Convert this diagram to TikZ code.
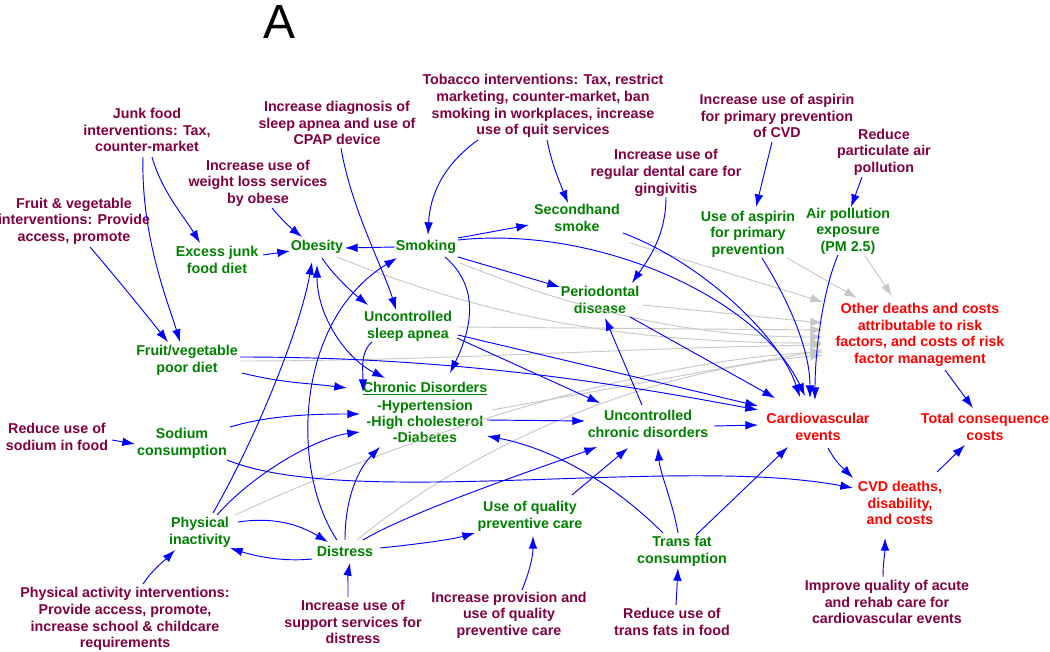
\documentclass[tikz,border=0pt]{standalone}
\usepackage{fontspec}
\setmainfont{Liberation Sans}
\usetikzlibrary{arrows.meta,calc}
\definecolor{ivc}{RGB}{128,0,64}
\definecolor{grc}{RGB}{0,128,0}
\definecolor{rdc}{RGB}{255,0,0}
\definecolor{blc}{RGB}{0,0,255}
\definecolor{gyc}{RGB}{200,200,200}
\tikzset{
  txt/.style={align=center, font=\fontsize{10.7}{12.5}\selectfont\bfseries, inner sep=1pt},
  iv/.style={txt, text=ivc},
  gr/.style={txt, text=grc},
  rd/.style={txt, text=rdc},
  bl/.style={draw=blc, line width=0.7pt, -{Latex[length=9.5pt,width=6.5pt]}},
  blboth/.style={draw=blc, line width=0.7pt, {Latex[length=9.5pt,width=6.5pt]}-{Latex[length=9.5pt,width=6.5pt]}},
  gy/.style={draw=gyc, line width=0.7pt, -{Latex[length=9.5pt,width=6.5pt]}}
}
\begin{document}
\begin{tikzpicture}[x=0.75pt,y=-0.75pt]
\fill[white] (0,0) rectangle (1050,652);
\useasboundingbox (0,0) rectangle (1050,652);
\node[font=\fontsize{36}{36}\selectfont] (title) at (280,22) {A};
% interventions
\node[iv] (junk) at (147,130) {Junk food\\interventions: Tax,\\counter-market};
\node[iv] (fvint) at (74,221) {Fruit \& vegetable\\interventions: Provide\\access, promote};
\node[iv] (wlint) at (258,183) {Increase use of\\weight loss services\\by obese};
\node[iv] (sleepint) at (337,123) {Increase diagnosis of\\sleep apnea and use of\\CPAP device};
\node[iv] (tobint) at (543,106) {Tobacco interventions: Tax, restrict\\marketing, counter-market, ban\\smoking in workplaces, increase\\use of quit services};
\node[iv] (dentint) at (666,173) {Increase use of\\regular dental care for\\gingivitis};
\node[iv] (aspint) at (777,116) {Increase use of aspirin\\for primary prevention\\of CVD};
\node[iv] (airint) at (884,152) {Reduce\\particulate air\\pollution};
\node[iv] (sodint) at (57,437) {Reduce use of\\sodium in food};
\node[iv] (paint) at (125,619) {Physical activity interventions:\\Provide access, promote,\\increase school \& childcare\\requirements};
\node[iv] (supint) at (353,622) {Increase use of\\support services for\\distress};
\node[iv] (qualint) at (509,615) {Increase provision and\\use of quality\\preventive care};
\node[iv] (tfint) at (672,622) {Reduce use of\\trans fats in food};
\node[iv] (acuteint) at (887,602) {Improve quality of acute\\and rehab care for\\cardiovascular events};
% green
\node[gr] (junkdiet) at (217,260) {Excess junk\\food diet};
\node[gr] (obesity) at (317,247) {Obesity};
\node[gr] (smoking) at (426,247) {Smoking};
\node[gr] (shs) at (577,218) {Secondhand\\smoke};
\node[gr] (aspirin) at (748,234) {Use of aspirin\\for primary\\prevention};
\node[gr] (air) at (848,231) {Air pollution\\exposure\\(PM 2.5)};
\node[gr] (perio) at (600,300) {Periodontal\\disease};
\node[gr] (apnea) at (408,326) {Uncontrolled\\sleep apnea};
\node[gr] (fvdiet) at (187,360) {Fruit/vegetable\\poor diet};
\node[gr, font=\fontsize{10.7}{12}\selectfont\bfseries] (chronic) at (425,412) {\underline{Chronic Disorders}\\[1.5pt]-Hypertension\\-High cholesterol\\-Diabetes};
\node[gr] (uchronic) at (648,424) {Uncontrolled\\chronic disorders};
\node[gr] (sodium) at (182,443) {Sodium\\consumption};
\node[gr] (pi) at (200,532) {Physical\\inactivity};
\node[gr] (distress) at (345,551) {Distress};
\node[gr] (quality) at (530,516) {Use of quality\\preventive care};
\node[gr] (transfat) at (682,551) {Trans fat\\consumption};
% red
\node[rd] (other) at (920,335) {Other deaths and costs\\attributable to risk\\factors, and costs of risk\\factor management};
\node[rd] (cve) at (818,427) {Cardiovascular\\events};
\node[rd] (total) at (985,427) {Total consequence\\costs};
\node[rd] (cvd) at (900,503) {CVD deaths,\\disability,\\and costs};
% gray arrows
\draw[gy] ($(shs)+(53,25)$) -- ($(other)+(-97,-33)$);
\draw[gy] ($(aspirin)+(39,24)$) -- ($(other)+(-63,-37)$);
\draw[gy] ($(air)+(17,25)$) -- ($(other)+(-28,-39)$);
\draw[gy] ($(perio)+(43,5)$) -- ($(other)+(-97,-12)$);
\draw[gy] ($(apnea)+(49,1)$) -- ($(other)+(-97,-5)$);
\draw[gy] ($(smoking)+(34,16)$) .. controls +(100,40) and +(-150,0) .. ($(other)+(-97,2)$);
\draw[gy] ($(obesity)+(20,10)$) .. controls +(150,60) and +(-200,0) .. ($(other)+(-97,8)$);
\draw[gy] ($(fvdiet)+(53,1)$) .. controls +(200,0) and +(-200,3) .. ($(other)+(-97,10)$);
\draw[gy] ($(chronic)+(67,-2)$) -- ($(other)+(-97,15)$);
\draw[gy] ($(pi)+(35,-17)$) .. controls +(185,-85) and +(-173,8) .. ($(other)+(-97,17)$);
\draw[gy] ($(distress)+(12,-11)$) .. controls +(123,-100) and +(-173,15) .. ($(other)+(-97,20)$);
% blue arrows
\draw[bl] ($(junk)+(5,27)$) .. controls +(10,35) and +(-15,-25) .. ($(junkdiet)+(-17,-17)$);
\draw[bl] ($(junk)+(-4,27)$) .. controls +(-2,80) and +(-12,-40) .. ($(fvdiet)+(-7,-18)$);
\draw[bl] ($(fvint)+(16,26)$) .. controls +(30,35) and +(-20,-25) .. ($(fvdiet)+(-19,-18)$);
\draw[bl] ($(wlint)+(14,25)$) .. controls +(10,12) and +(-10,-8) .. ($(obesity)+(-15,-10)$);
\draw[bl] ($(junkdiet)+(46,-5)$) -- ($(obesity)+(-27,4)$);
\draw[bl] ($(smoking)+(-31,0)$) -- ($(obesity)+(28,1)$);
\draw[bl] ($(sleepint)+(4,25)$) .. controls +(10,60) and +(-12,-40) .. ($(apnea)+(-12,-16)$);
\draw[bl] ($(tobint)+(-65,34)$) .. controls +(-35,25) and +(2,-40) .. ($(smoking)+(2,-12)$);
\draw[bl] ($(tobint)+(4,34)$) .. controls +(5,25) and +(-8,-20) .. ($(shs)+(-9,-15)$);
\draw[bl] ($(smoking)+(32,-9)$) -- ($(shs)+(-48,7)$);
\draw[bl] ($(smoking)+(32,10)$) -- ($(perio)+(-40,-13)$);
\draw[bl] ($(smoking)+(32,-7)$) .. controls +(142,-15) and +(-45,-96) .. ($(cve)+(-13,-31)$);
\draw[bl] ($(obesity)+(5,11)$) .. controls +(12,18) and +(-15,-12) .. ($(apnea)+(-40,-21)$);
\draw[blboth] ($(obesity)+(0,18)$) .. controls +(0,50) and +(-40,-20) .. ($(chronic)+(-40,-34)$);
\draw[bl] ($(pi)+(13,-19)$) .. controls +(42,-73) and +(-12,68) .. ($(obesity)+(-5,15)$);
\draw[bl] ($(pi)+(17,-17)$) .. controls +(40,-45) and +(-40,5) .. ($(chronic)+(-65,20)$);
\draw[bl] ($(distress)+(-8,-11)$) .. controls +(-47,-70) and +(-102,62) .. ($(smoking)+(-29,11)$);
\draw[bl] ($(smoking)+(19,10)$) .. controls +(35,30) and +(22,-45) .. ($(chronic)+(25,-39)$);
\draw[bl] ($(apnea)+(-36,16)$) .. controls +(-12,10) and +(0,-22) .. ($(chronic)+(-62,-20)$);
\draw[bl] ($(apnea)+(49,12)$) -- ($(uchronic)+(-48,-21)$);
\draw[bl] ($(apnea)+(50,9)$) -- ($(cve)+(-60,-21)$);
\draw[bl] ($(fvdiet)+(53,-3)$) .. controls +(200,0) and +(-158,-30) .. ($(cve)+(-60,-17)$);
\draw[bl] ($(fvdiet)+(55,13)$) .. controls +(40,10) and +(-40,-5) .. ($(chronic)+(-78,-24)$);
\draw[bl] ($(sodint)+(55,3)$) -- ($(sodium)+(-47,1)$);
\draw[bl] ($(sodium)+(48,-16)$) .. controls +(40,-12) and +(-45,0) .. ($(chronic)+(-65,2)$);
\draw[bl] ($(sodium)+(45,17)$) .. controls +(123,50) and +(-173,-33) .. ($(cvd)+(-47,-15)$);
\draw[bl] ($(chronic)+(62,8)$) -- ($(uchronic)+(-63,-3)$);
\draw[bl] ($(uchronic)+(-6,-19)$) -- ($(perio)+(5,18)$);
\draw[bl] ($(dentint)+(0,24)$) .. controls +(0,40) and +(15,-22) .. ($(perio)+(32,-17)$);
\draw[bl] ($(perio)+(30,17)$) -- ($(cve)+(-43,-29)$);
\draw[bl] ($(shs)+(46,15)$) .. controls +(80,30) and +(-20,-60) .. ($(cve)+(-18,-30)$);
\draw[bl] ($(aspint)+(-5,26)$) -- ($(aspirin)+(8,-27)$);
\draw[bl] ($(airint)+(-22,25)$) -- ($(air)+(3,-24)$);
\draw[bl] ($(aspirin)+(14,24)$) .. controls +(25,40) and +(0,-50) .. ($(cve)+(-8,-29)$);
\draw[bl] ($(air)+(-10,24)$) .. controls +(-15,35) and +(0,-50) .. ($(cve)+(-3,-27)$);
\draw[bl] ($(uchronic)+(66,2)$) -- ($(cve)+(-60,-2)$);
\draw[bl] ($(transfat)+(14,-16)$) -- ($(cve)+(-30,20)$);
\draw[bl] ($(transfat)+(-4,-18)$) .. controls +(-5,-30) and +(2,25) .. ($(uchronic)+(10,24)$);
\draw[bl] ($(transfat)+(-19,-18)$) .. controls +(-43,-43) and +(73,14) .. ($(chronic)+(62,24)$);
\draw[bl] ($(quality)+(42,-21)$) -- ($(uchronic)+(-20,24)$);
\draw[bl] ($(distress)+(18,-11)$) .. controls +(50,-30) and +(-40,15) .. ($(uchronic)+(-51,23)$);
\draw[bl] ($(distress)+(0,-11)$) .. controls +(0,-45) and +(-20,20) .. ($(chronic)+(-45,35)$);
\draw[bl] ($(pi)+(38,-10)$) .. controls +(40,-6) and +(-25,-15) .. ($(distress)+(-17,-9)$);
\draw[bl] ($(distress)+(-33,8)$) .. controls +(-30,3) and +(25,8) .. ($(pi)+(30,16)$);
\draw[bl] ($(paint)+(18,-35)$) .. controls +(10,-15) and +(-10,10) .. ($(pi)+(-25,18)$);
\draw[bl] ($(supint)+(-5,-25)$) .. controls +(0,-15) and +(-2,10) .. ($(distress)+(5,12)$);
\draw[bl] ($(distress)+(35,-3)$) .. controls +(30,-3) and +(-25,7) .. ($(quality)+(-55,17)$);
\draw[bl] ($(qualint)+(13,-25)$) .. controls +(8,-20) and +(0,20) .. ($(quality)+(3,20)$);
\draw[bl] ($(tfint)+(4,-17)$) -- ($(transfat)+(-4,17)$);
\draw[bl] ($(other)+(25,35)$) -- ($(total)+(-12,-19)$);
\draw[bl] ($(cve)+(10,21)$) .. controls +(8,15) and +(-10,-10) .. ($(cvd)+(-47,-25)$);
\draw[bl] ($(cvd)+(37,-31)$) -- ($(total)+(-20,18)$);
\draw[bl] ($(acuteint)+(-4,-25)$) .. controls +(0,-15) and +(0,15) .. ($(cvd)+(-15,35)$);
\end{tikzpicture}
\end{document}
